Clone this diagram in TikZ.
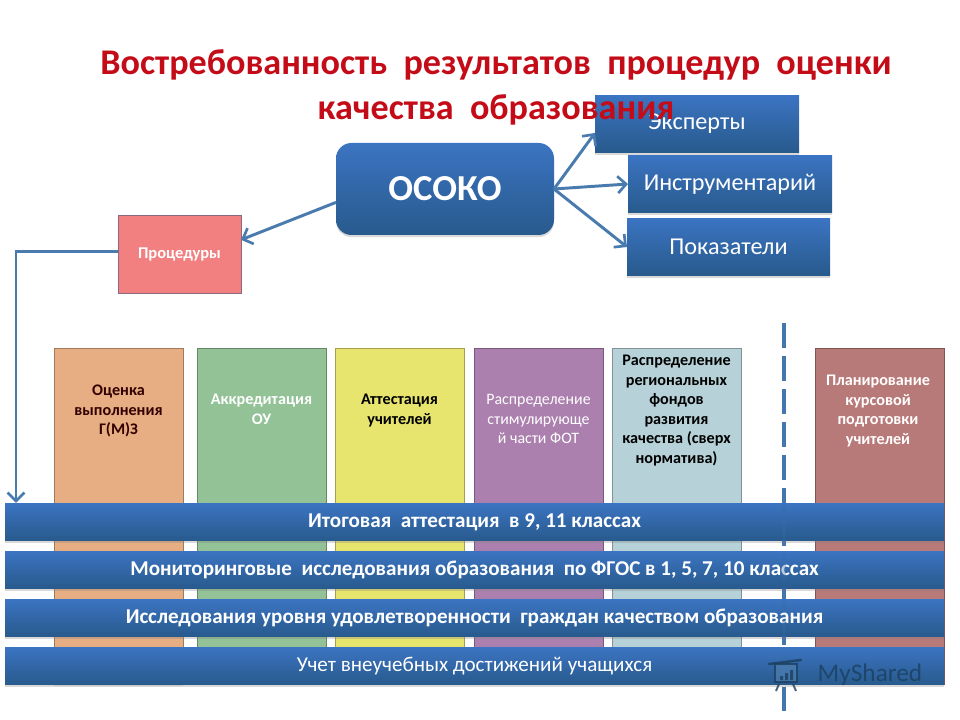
\documentclass[tikz,border=0pt]{standalone}
\usepackage{fontspec}
\setmainfont{Carlito}
\usetikzlibrary{arrows.meta, shadows}
\definecolor{barTop}{HTML}{3B74C2}
\definecolor{barBot}{HTML}{285A8C}
\definecolor{lineBlue}{HTML}{4A7BAF}
\definecolor{veilBlue}{HTML}{3A6CA8}
\tikzset{
    sized/.style 2 args={minimum width=#1*0.025cm, minimum height=#2*0.025cm, inner sep=0pt, outer sep=0pt},
    bluebox/.style={top color=barTop, bottom color=barBot, draw=none, text=white, drop shadow={opacity=0.3, shadow xshift=0pt, shadow yshift=-1.5pt}},
    colbox/.style={sized={129}{336}, draw=#1!70!black, line width=0.4pt, fill=#1, drop shadow={opacity=0.2, shadow xshift=0pt, shadow yshift=-1pt}},
    collabel/.style={anchor=north, align=center, inner sep=0pt, font=\fontsize{11.5}{13.9}\selectfont\bfseries},
    barlabel/.style={font=\fontsize{15}{18}\selectfont\bfseries},
    sidelabel/.style={font=\fontsize{17.2}{20}\selectfont},
    arr/.style={draw=lineBlue, line width=2.1pt, -{Straight Barb[length=6pt, width=12pt, line width=1.9pt]}},
    dashline/.style={line width=2.3pt, dash pattern=on 17.5pt off 6pt},
}
\definecolor{colOrange}{HTML}{E6AE82}
\definecolor{colGreen}{HTML}{92C295}
\definecolor{colYellow}{HTML}{E8E56E}
\definecolor{colPurple}{HTML}{AB7FAE}
\definecolor{colBlue}{HTML}{B6D2D8}
\definecolor{colRose}{HTML}{B87A78}
\definecolor{procRed}{HTML}{F28080}
\definecolor{procEdge}{HTML}{8A6A80}
\definecolor{titleRed}{HTML}{C40C18}
\definecolor{markBlue}{HTML}{1B3F5F}
\begin{document}
\begin{tikzpicture}[x=0.025cm, y=-0.025cm]
    \useasboundingbox (0,0) rectangle (960,720);
    %
    \node[colbox=colOrange] (cola) at (118.5,516.5) {};
    \node[colbox=colGreen] (colb) at (261.5,516) {};
    \node[colbox=colYellow] (colc) at (399.5,516) {};
    \node[colbox=colPurple] (cold) at (538.5,516) {};
    \node[colbox=colBlue] (cole) at (676.5,516) {};
    \node[colbox=colRose] (colf) at (879.5,516) {};
    %
    \node[collabel, text=black!80!red] (laba) at (118.5,385) {Оценка\\выполнения\\Г(М)З};
    \node[collabel, text=white] (labb) at (261.5,394) {Аккредитация\\ОУ};
    \node[collabel, text=black] (labc) at (399.5,394) {Аттестация\\учителей};
    \node[collabel, text=white, font=\fontsize{11.3}{13.9}\selectfont] (labd) at (538.5,394) {Распределение\\стимулирующе\\й части ФОТ};
    \node[collabel, text=black] (labe) at (676.5,355) {Распределение\\региональных\\фондов\\развития\\качества (сверх\\норматива)};
    \node[collabel, text=white] (labf) at (878,375) {Планирование\\курсовой\\подготовки\\учителей};
    %
    \coordinate (dashtop) at (784,323);
    \coordinate (dashbot) at (784,712);
    \draw[draw=lineBlue, dashline] (dashtop) -- (dashbot);
    %
    \node[bluebox, sized={939}{37}, barlabel] (bara) at (474.5,522) {Итоговая \ аттестация \ в 9, 11 классах};
    \node[bluebox, sized={939}{37}, barlabel] (barb) at (474.5,570) {Мониторинговые \ исследования образования \ по ФГОС в 1, 5, 7, 10 классах};
    \node[bluebox, sized={939}{37}, barlabel] (barc) at (474.5,618) {Исследования уровня удовлетворенности \ граждан качеством образования};
    \node[bluebox, sized={939}{37}, font=\fontsize{15}{18}\selectfont] (bard) at (474.5,666) {Учет внеучебных достижений учащихся};
    %
    \draw[draw=veilBlue, dashline, opacity=0.35] (dashtop) -- (dashbot);
    %
    \node[bluebox, rounded corners=11pt, sized={218}{92}, font=\fontsize{26}{30}\selectfont\bfseries] (osoko) at (445,189) {ОСОКО};
    \node[bluebox, sized={204}{57}, sidelabel] (expert) at (697,124) {Эксперты};
    \node[bluebox, sized={204}{57}, sidelabel] (instr) at (730,184) {Инструментарий};
    \node[bluebox, sized={203}{57}, sidelabel] (pokaz) at (728.5,247) {Показатели};
    \node[sized={123}{78}, fill=procRed, draw=procEdge, line width=0.6pt, text=white, font=\fontsize{11.7}{14}\selectfont\bfseries, drop shadow={opacity=0.2, shadow xshift=0pt, shadow yshift=-1pt}] (proc) at (179.5,254) {Процедуры};
    %
    \draw[arr] (osoko.east) -- (expert.185);
    \draw[arr] (osoko.east) -- (instr.west);
    \draw[arr] (osoko.east) -- (pokaz.west);
    \draw[arr] (osoko.187) -- (proc.13);
    \coordinate (barin) at (16,503);
    \draw[arr] (proc.178) -| (barin);
    %
    \node[text=titleRed, align=center, font=\fontsize{25.7}{32}\selectfont\bfseries] (title) at (496,87.5) {Востребованность \ результатов \ процедур \ оценки\\качества \ образования};
    %
    \begin{scope}[opacity=0.8]
        \draw[draw=markBlue, line width=1.4pt, fill=lineBlue] (775,664) rectangle (797,682);
        \draw[draw=markBlue, line width=1.8pt, line cap=round] (769,664) -- (801,660);
        \draw[draw=markBlue, line width=1.4pt] (779,684) -- (776,691) (793,684) -- (796,691);
        \fill[markBlue] (780,676) rectangle (783,680) (785,673) rectangle (788,680) (790,670) rectangle (793,680);
        \node[text=markBlue, font=\fontsize{18}{22}\selectfont] (mark) at (870,675) {MyShared};
    \end{scope}
\end{tikzpicture}
\end{document}
